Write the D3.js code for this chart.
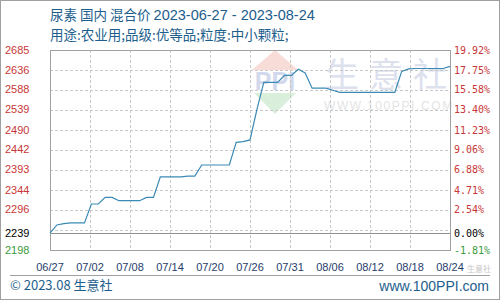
<!DOCTYPE html>
<html><head><meta charset="utf-8">
<script src="https://cdn.jsdelivr.net/npm/d3@7"></script>
<style>
html,body{margin:0;padding:0;background:#fff;}
svg{display:block;}
</style></head>
<body>
<svg id="chart" width="500" height="300"></svg>
<script>
// ---- data ----
const titleProduct = "尿素 国内 混合价 ";
const titleDates = "2023-06-27 - 2023-08-24";
const titleLine2 = "用途:农业用;品级:优等品;粒度:中小颗粒;";
const xTickLabels = ["06/27","07/02","07/08","07/14","07/20","07/26","07/31","08/06","08/12","08/18","08/24"];
// daily price, 2023-06-27 .. 2023-08-24
const prices = [
  2239,2259,2262,2264,2264,2264,2310,2310,2326,2326,
  2318,2318,2318,2318,2326,2326,2376,2376,2376,2376,
  2378,2378,2405,2405,2405,2405,2405,2460,2462,2466,
  2540,2606,2606,2606,2623,2623,2638,2629,2592,2592,
  2592,2587,2582,2582,2582,2582,2582,2582,2582,2582,
  2582,2633,2639,2640,2640,2640,2640,2640,2645
];
const yMin = 2198, yMax = 2685, basePrice = 2239;
const leftTickValues = [2198,2239,2296,2344,2393,2442,2490,2539,2588,2636,2685];
const leftTickLabels = ["2198","2239","2296","2344","2393","2442","2490","2539","2588","2636","2685"];
const rightTickLabels = ["-1.81%","0.00%","2.54%","4.71%","6.88%","9.06%","11.23%","13.40%","15.58%","17.75%","19.92%"];
const gridDivisions = 10;

// ---- layout ----
const svg = d3.select("#chart");
const L = 50, R = 450.5, T = 50, B = 250;
const x = d3.scaleLinear().domain([0, prices.length - 1]).range([L, 450]);
const y = d3.scaleLinear().domain([yMin, yMax]).range([B, T]);

const titleColor = "#1d5e8c";
const red = "#c83737", green = "#3a9a3a";

// outer border
svg.append("rect").attr("x",0.5).attr("y",0.5).attr("width",499).attr("height",299)
  .attr("fill","#fff").attr("stroke","#a0a0a0");

// titles
const t1 = svg.append("text").attr("x",50).attr("y",20)
  .attr("fill",titleColor).attr("font-family","'Noto Sans CJK SC', sans-serif").attr("font-size",13.5);
t1.append("tspan").text(titleProduct);
t1.append("tspan").text(titleDates).attr("font-family","'Liberation Sans', Arial, sans-serif").attr("font-size",14.5);
svg.append("text").attr("x",50).attr("y",40).text(titleLine2)
  .attr("fill",titleColor).attr("font-family","'Noto Sans CJK SC', sans-serif").attr("font-size",13.5);

// watermark
const wm = svg.append("g");
wm.append("path").attr("d","M252,70 L275,50 L298,70 Z").attr("fill","#f8dcd8");
wm.append("path").attr("d","M254,93 L296,93 L275,114 Z").attr("fill","#d9efdb");
wm.append("text").attr("x",275).attr("y",90).attr("text-anchor","middle").text("PPI")
  .attr("fill","#d3d9ec").attr("font-family","'Liberation Sans', sans-serif").attr("font-weight","bold").attr("font-size",25);
wm.append("text").attr("x",325).attr("y",87).text("生意社")
  .attr("fill","#dde1ee").attr("font-family","'Noto Sans CJK SC', sans-serif").attr("font-size",34).attr("letter-spacing",10);
wm.append("text").attr("x",324).attr("y",110).text("WWW.100PPI.COM")
  .attr("fill","#e4e4e4").attr("font-family","'Liberation Sans', sans-serif").attr("font-size",12).attr("letter-spacing",1.6);

// grid
const gridVals = d3.range(1, gridDivisions).map(k => yMin + k * (yMax - yMin) / gridDivisions);
svg.append("g").selectAll("line").data(gridVals).join("line")
  .attr("x1",L).attr("x2",R).attr("y1",d=>Math.round(y(d))+0.5).attr("y2",d=>Math.round(y(d))+0.5)
  .attr("stroke","#c8c8c8").attr("stroke-dasharray","3,2");
const xTickPos = xTickLabels.map((_, i) => (prices.length - 1) * i / (xTickLabels.length - 1));
svg.append("g").selectAll("line").data(xTickPos.slice(1, -1)).join("line")
  .attr("x1",d=>Math.round(x(d))+0.5).attr("x2",d=>Math.round(x(d))+0.5).attr("y1",T).attr("y2",B)
  .attr("stroke","#c8c8c8").attr("stroke-dasharray","3,2");

// base line
svg.append("line").attr("x1",L).attr("x2",R)
  .attr("y1",Math.round(y(basePrice))+0.5).attr("y2",Math.round(y(basePrice))+0.5)
  .attr("stroke","#909090");

// plot border
svg.append("rect").attr("x",L+0.5).attr("y",T+0.5).attr("width",R-L-0.5).attr("height",B-T)
  .attr("fill","none").attr("stroke","#a0a0a0");

// line
svg.append("path").datum(prices)
  .attr("d", d3.line().x((d,i)=>x(i)).y(d=>y(d)))
  .attr("fill","none").attr("stroke","#3b8ab5").attr("stroke-width",1.2);

// left ticks
svg.append("g").selectAll("text").data(leftTickValues).join("text")
  .attr("x",5).attr("y",d=>y(d)+3.5).text((d,i)=>leftTickLabels[i])
  .attr("fill",d=> d===basePrice ? "#000" : (d<basePrice ? green : red))
  .attr("font-family","'Liberation Sans', Arial, sans-serif").attr("font-size",11);
// right ticks
svg.append("g").selectAll("text").data(leftTickValues).join("text")
  .attr("x",454).attr("y",d=>y(d)+3.5).text((d,i)=>rightTickLabels[i])
  .attr("fill",d=> d===basePrice ? "#000" : (d<basePrice ? green : red))
  .attr("font-family","'DejaVu Sans Mono', monospace").attr("font-size",10);

// x ticks
svg.append("g").selectAll("text").data(xTickPos).join("text")
  .attr("x",d=>x(d)).attr("y",271).attr("text-anchor","middle").text((d,i)=>xTickLabels[i])
  .attr("fill","#1f3d6b").attr("font-family","'Liberation Sans', Arial, sans-serif").attr("font-size",11);

// footer
svg.append("line").attr("x1",10).attr("x2",490).attr("y1",275.5).attr("y2",275.5).attr("stroke","#a0a0a0");
svg.append("text").attr("x",10).attr("y",290).text("© 2023.08 生意社")
  .attr("fill",titleColor).attr("font-family","'Noto Sans CJK SC', sans-serif").attr("font-size",13);
svg.append("text").attr("x",489).attr("y",291).attr("text-anchor","end").text("www.100PPI.com")
  .attr("fill",titleColor).attr("font-family","'Liberation Sans', Arial, sans-serif").attr("font-size",14);
svg.append("text").attr("x",467).attr("y",272).text("生意社")
  .attr("fill","#b8b8b8").attr("opacity",0.8).attr("font-family","'Noto Sans CJK SC', sans-serif").attr("font-size",8);
</script>
</body></html>
